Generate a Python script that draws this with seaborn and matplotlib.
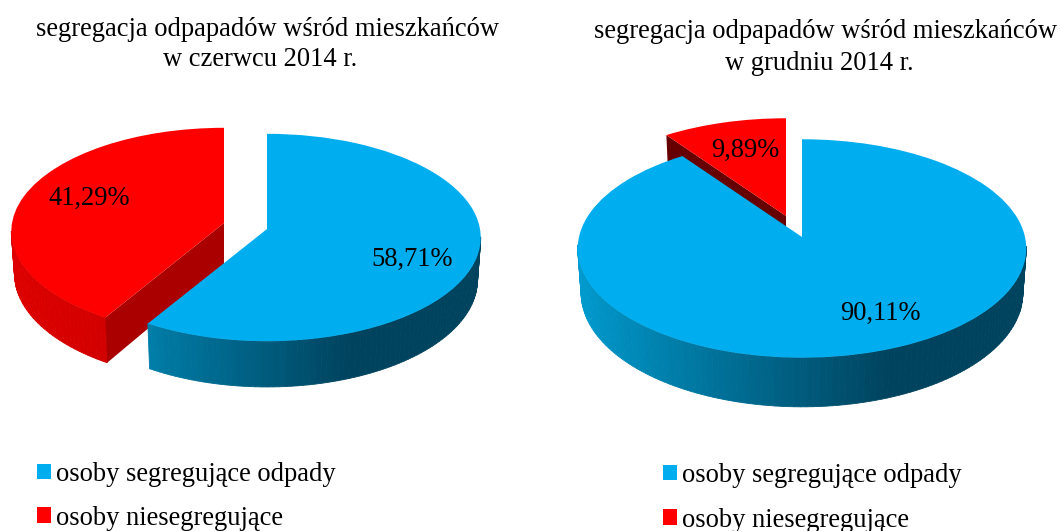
import numpy as np
import matplotlib
matplotlib.use("Agg")
import matplotlib.pyplot as plt
from matplotlib.patches import Patch
from matplotlib.transforms import Transform
import seaborn as sns

# ---- data ----
categories = ["osoby segregujące odpady", "osoby niesegregujące"]
june_values = [58.71, 41.29]
december_values = [90.11, 9.89]
june_title = ["segregacja odpapadów wśród mieszkańców", "w czerwcu 2014 r."]
december_title = ["segregacja odpapadów wśród mieszkańców", "w grudniu 2014 r."]

# ---- style ----
sns.set_theme(style="white")
plt.rcParams["font.family"] = ["Liberation Serif", "DejaVu Serif"]
TOP = ["#00AEEF", "#FF0000"]
SIDE = [sns.blend_palette(["#009CD0", "#00435E"], 64),
        sns.blend_palette(["#DE0000", "#BE0000"], 64)]
W, H = 1060, 531


class Persp(Transform):
    """Tilted-disc projection of unit pie coordinates to pixel positions."""
    input_dims = output_dims = 2
    is_separable = False
    has_inverse = False

    def __init__(self, ox, oy, A, B, k, depth=0.0, shrink=1.0):
        super().__init__()
        self.p = (ox, oy, A, B, k, depth, shrink)

    def transform_non_affine(self, xy):
        ox, oy, A, B, k, depth, shrink = self.p
        xy = np.asarray(xy, float)
        s = 1.0 / (1.0 + k * xy[:, 1])
        return np.column_stack([ox + B * xy[:, 0] * s * shrink,
                                oy + (depth - A * xy[:, 1]) * s])


def draw_pie(ax, values, apexes, A, B, k, depth, wall_colors):
    wedges, _ = ax.pie(values, startangle=90, counterclock=False,
                       colors=TOP, wedgeprops=dict(linewidth=0))
    for i, wedge in enumerate(wedges):
        base = 2 - i   # second slice lies behind the first
        top = Persp(*apexes[i], A, B[i], k)
        low = Persp(*apexes[i], A, B[i], k, depth, 0.985)
        wedge.set_transform(top + ax.transData)
        wedge.set_zorder(base + 0.3)
        # outer rim, shaded left to right; only the front half is visible
        edges = np.arange(wedge.theta1, wedge.theta2 + 1.5, 1.5)
        edges[-1] = wedge.theta2
        for a0, a1 in zip(edges[:-1], edges[1:]):
            rad = np.radians([a0, a1])
            uv = np.column_stack([np.cos(rad), np.sin(rad)])
            if uv[:, 1].max() > -0.07:
                continue
            poly = np.vstack([top.transform(uv), low.transform(uv)[::-1]])
            t = np.clip((uv[:, 0].mean() + 1) / 1.35, 0, 1)
            c = SIDE[i][int(t * 63)]
            ax.fill(poly[:, 0], poly[:, 1], facecolor=c, edgecolor=c,
                    linewidth=0.6, zorder=base + 0.1)
        # cut face below the slice's radial edge
        if wall_colors[i]:
            rad = np.radians(wedge.theta2)
            uv = np.array([[0, 0], [np.cos(rad), np.sin(rad)]])
            poly = np.vstack([top.transform(uv), low.transform(uv)[::-1]])
            ax.fill(poly[:, 0], poly[:, 1], facecolor=wall_colors[i],
                    edgecolor="none", zorder=base + 0.2)


def pct(v):
    return f"{v:.2f}%".replace(".", ",")


fig = plt.figure(figsize=(W / 100, H / 100), dpi=100, facecolor="white")
ax = fig.add_axes([0, 0, 1, 1])

draw_pie(ax, june_values, [(267, 229), (224, 223)], 103, (213, 212), 0.082, 42,
         [None, "#AA0000"])
draw_pie(ax, december_values, [(802, 237), (786, 216)], 108, (223, 223), 0.105, 44,
         [None, "#660000"])

ax.set_aspect("auto")
ax.set_xlim(0, W)
ax.set_ylim(H, 0)
ax.axis("off")

FS = 19.1
for v, (x, y) in zip(june_values + december_values,
                     [(412, 259), (89, 198), (880, 313), (745, 150)]):
    ax.text(x, y, pct(v), ha="center", va="center", fontsize=FS, color="black", zorder=6)

for line, (x, y) in zip(june_title + december_title,
                        [(267, 29), (260, 59), (826, 32), (819, 63)]):
    ax.text(x, y, line, ha="center", va="center", fontsize=FS, color="black", zorder=6)

handles = [Patch(facecolor=c, edgecolor="none") for c in TOP]
for anchor, spacing in [((37, 462), 0.70), ((663, 463), 0.74)]:
    leg = ax.legend(handles, categories, loc="upper left", bbox_to_anchor=anchor,
                    bbox_transform=ax.transData, frameon=False, borderpad=0,
                    borderaxespad=0, fontsize=FS, handlelength=0.53,
                    handleheight=0.53, handletextpad=0.2, labelspacing=spacing,
                    labelcolor="black")
    leg.set_zorder(6)
    ax.add_artist(leg)
    ax.legend_ = None

fig.savefig("out.png", dpi=100)
